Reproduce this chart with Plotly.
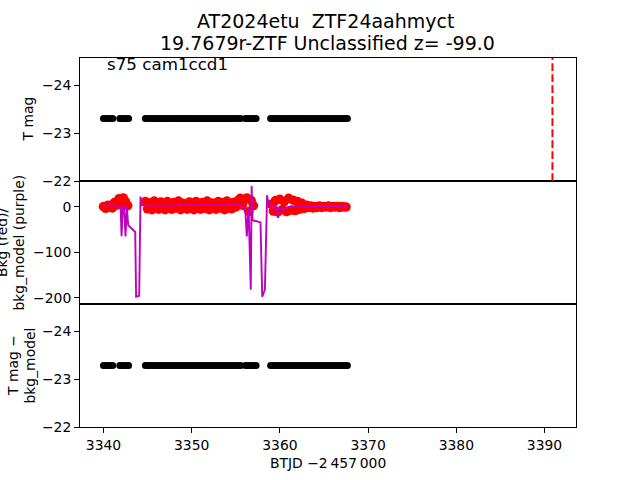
import plotly.graph_objects as go

# ---------------- data ----------------
t_mag = [3340.0, 3340.25, 3340.5, 3340.75, 3341.05, 3341.85, 3342.1, 3342.35, 3342.6, 3342.85,
         3344.75, 3345.0, 3345.25, 3345.5, 3345.75, 3346.0, 3346.25, 3346.5, 3346.75, 3347.0,
         3347.25, 3347.5, 3347.75, 3348.0, 3348.25, 3348.5, 3348.75, 3349.0, 3349.25, 3349.5,
         3349.75, 3350.0, 3350.25, 3350.5, 3350.75, 3351.0, 3351.25, 3351.5, 3351.75, 3352.0,
         3352.25, 3352.5, 3352.75, 3353.0, 3353.25, 3353.5, 3353.75, 3354.0, 3354.25, 3354.5,
         3354.75, 3355.0, 3355.25, 3355.55, 3356.1, 3356.35, 3356.6, 3356.85, 3357.1, 3357.3,
         3358.95, 3359.2, 3359.45, 3359.7, 3359.95, 3360.2, 3360.45, 3360.7, 3360.95, 3361.2,
         3361.45, 3361.7, 3361.95, 3362.2, 3362.45, 3362.7, 3362.95, 3363.2, 3363.45, 3363.7,
         3363.95, 3364.2, 3364.45, 3364.7, 3364.95, 3365.2, 3365.45, 3365.7, 3365.95, 3366.2,
         3366.45, 3366.7, 3366.95, 3367.2, 3367.45, 3367.65]
tmag_value = -23.30            # T mag (constant in the picture)
tmag_minus_model_value = -23.28  # T mag - bkg_model (constant in the picture)
tmag = [tmag_value] * len(t_mag)
tmag_sub = [tmag_minus_model_value] * len(t_mag)

t_bkg = [3340.0, 3340.25, 3340.5, 3340.75, 3341.0, 3341.25, 3341.5, 3341.75, 3342.0, 3342.25, 3342.5, 3342.75,
         3344.75, 3345.0, 3345.25, 3345.5, 3345.75, 3346.0, 3346.25, 3346.5, 3346.75, 3347.0,
         3347.25, 3347.5, 3347.75, 3348.0, 3348.25, 3348.5, 3348.75, 3349.0, 3349.25, 3349.5,
         3349.75, 3350.0, 3350.25, 3350.5, 3350.75, 3351.0, 3351.25, 3351.5, 3351.75, 3352.0,
         3352.25, 3352.5, 3352.75, 3353.0, 3353.25, 3353.5, 3353.75, 3354.0, 3354.25, 3354.5,
         3354.75, 3355.0, 3355.25, 3355.5, 3355.75, 3356.0, 3356.25, 3356.5, 3356.75, 3357.0,
         3359.0, 3359.25, 3359.5, 3359.75, 3360.0, 3360.25, 3360.5, 3360.75, 3361.0, 3361.25,
         3361.5, 3361.75, 3362.0, 3362.25, 3362.5, 3362.75, 3363.0, 3363.25, 3363.5, 3363.75,
         3364.0, 3364.25, 3364.5, 3364.75, 3365.0, 3365.25, 3365.5, 3365.75, 3366.0, 3366.25,
         3366.5, 3366.75, 3367.0, 3367.25, 3367.5]
bkg = [1, -3, 4, 0, -2, 10, 4, 18, 6, 20, 12, 3,
       12, -4, 9, -6, 13, 0, -5, 11, 2, -6,
       12, 3, -5, 10, -2, 13, -6, 8, 1, -5,
       11, 0, -6, 12, 3, -5, 10, -3, 13, -6,
       9, 2, -5, 12, -2, 10, -6, 13, 1, -4,
       10, 0, 14, 19, 4, 16, 20, -10, 14, 3,
       6, -9, 14, -11, 17, -6, 12, -10, 19, -7,
       15, -8, 12, -5, 8, -3, 4, -1, 2, -2,
       1, -1, 2, -1, 1, 0, 2, -1, 1, 0,
       1, -1, 1, 0, 0]

t_model = [3340.0, 3341.3, 3341.6, 3341.95, 3342.05, 3342.2, 3342.35, 3342.5, 3342.65, 3342.8,
           3343.6, 3343.7, 3344.05, 3344.2, 3344.3, 3345.0, 3350.0, 3355.5, 3355.8, 3356.1,
           3356.25, 3356.45, 3356.7, 3356.8, 3356.9, 3357.8, 3358.0, 3358.3, 3358.55, 3358.7,
           3359.2, 3359.6, 3359.8, 3359.95, 3360.3, 3361.0, 3362.0, 3363.0, 3365.0, 3367.6]
bkg_model = [4, 4, 0, -3, -64, 3, -5, -65, 2, -40,
             -55, -197, -195, 23, 4, 3, 4, 4, 2, -13,
             -65, 0, -182, 46, -29, -34, -197, -182, 26, 4,
             -2, 2, -24, -3, -5, 0, 3, 1, 2, 2]

tns_time = 3390.9

x_ticks = [3340, 3350, 3360, 3370, 3380, 3390]

# ---------------- figure ----------------
FONT = "DejaVu Sans"
L, R, T, B = 80, 64, 58, 53
PH = 480 - T - B

def py(p):
    return (480 - B - p) / PH

def px(p):
    return (p - L) / (640 - L - R)

fig = go.Figure()
fig.add_trace(go.Scatter(x=t_mag, y=tmag, mode="markers", xaxis="x2", yaxis="y",
                         marker=dict(color="black", size=7, line=dict(width=0))))
fig.add_trace(go.Scatter(x=t_bkg, y=bkg, mode="markers", xaxis="x3", yaxis="y2",
                         marker=dict(color="#ff0000", size=9.5, line=dict(width=0))))
fig.add_trace(go.Scatter(x=t_model, y=bkg_model, mode="lines", xaxis="x3", yaxis="y2",
                         line=dict(color="#bf00bf", width=1.9)))
fig.add_trace(go.Scatter(x=t_mag, y=tmag_sub, mode="markers", xaxis="x", yaxis="y3",
                         marker=dict(color="black", size=7, line=dict(width=0))))

xr = [3337.34, 3393.57]
axis_common = dict(showline=True, linecolor="black", linewidth=1.1, mirror=True,
                   showgrid=False, zeroline=False, ticks="outside", ticklen=4.9,
                   tickwidth=1.1, tickcolor="black",
                   tickfont=dict(family=FONT, size=13.9, color="black"))

fig.update_layout(
    width=640, height=480,
    margin=dict(l=L, r=R, t=T, b=B, pad=0),
    paper_bgcolor="white", plot_bgcolor="white",
    showlegend=False,
    xaxis=dict(**axis_common, domain=[0, 1], anchor="y3", range=xr,
               tickvals=x_ticks, ticktext=[str(v) for v in x_ticks]),
    xaxis2=dict(**{**axis_common, "ticks": ""}, domain=[0, 1], anchor="y", range=xr,
                matches="x", showticklabels=False),
    xaxis3=dict(**{**axis_common, "ticks": ""}, domain=[0, 1], anchor="y2", range=xr,
                matches="x", showticklabels=False),
    yaxis=dict(**axis_common, domain=[2 / 3, 1], anchor="x2", range=[-22, -24.5625],
               tickvals=[-24, -23, -22]),
    yaxis2=dict(**axis_common, domain=[1 / 3, 2 / 3], anchor="x3", range=[-213.2, 57.1],
                tickvals=[0, -100, -200]),
    yaxis3=dict(**axis_common, domain=[0, 1 / 3], anchor="x", range=[-22, -24.5625],
                tickvals=[-24, -23, -22]),
)

# TNS discovery line in top panel
fig.add_shape(type="line", xref="x2", yref="y domain", x0=tns_time, x1=tns_time, y0=0, y1=1,
              line=dict(color="#ff0000", width=2, dash="7.7px,3.3px"))

def ann(text, x, y, size=13.9, angle=0, xanchor="center"):
    fig.add_annotation(text=text, xref="paper", yref="paper", x=px(x), y=py(y),
                       xanchor=xanchor, yanchor="middle", showarrow=False, textangle=angle,
                       font=dict(family=FONT, size=size, color="black"))

ann("AT2024etu  ZTF24aahmyct", 325, 21, size=19)
ann("19.7679r-ZTF Unclassified z= -99.0", 327.5, 43, size=19)
ann("s75 cam1ccd1", 105, 64, size=16.7, xanchor="left")
ann("T mag", 28, 119.5, angle=-90)
ann("Bkg (red)/", 1.5, 242.5, angle=-90)
ann("bkg_model (purple)", 18, 242.5, angle=-90)
ann("T mag \u2212", 12.5, 365.5, angle=-90)
ann("bkg_model", 29, 365.5, angle=-90)
ann("BTJD \u22122\u2009457\u2009000", 327.5, 463)

fig.write_html("out.html")
